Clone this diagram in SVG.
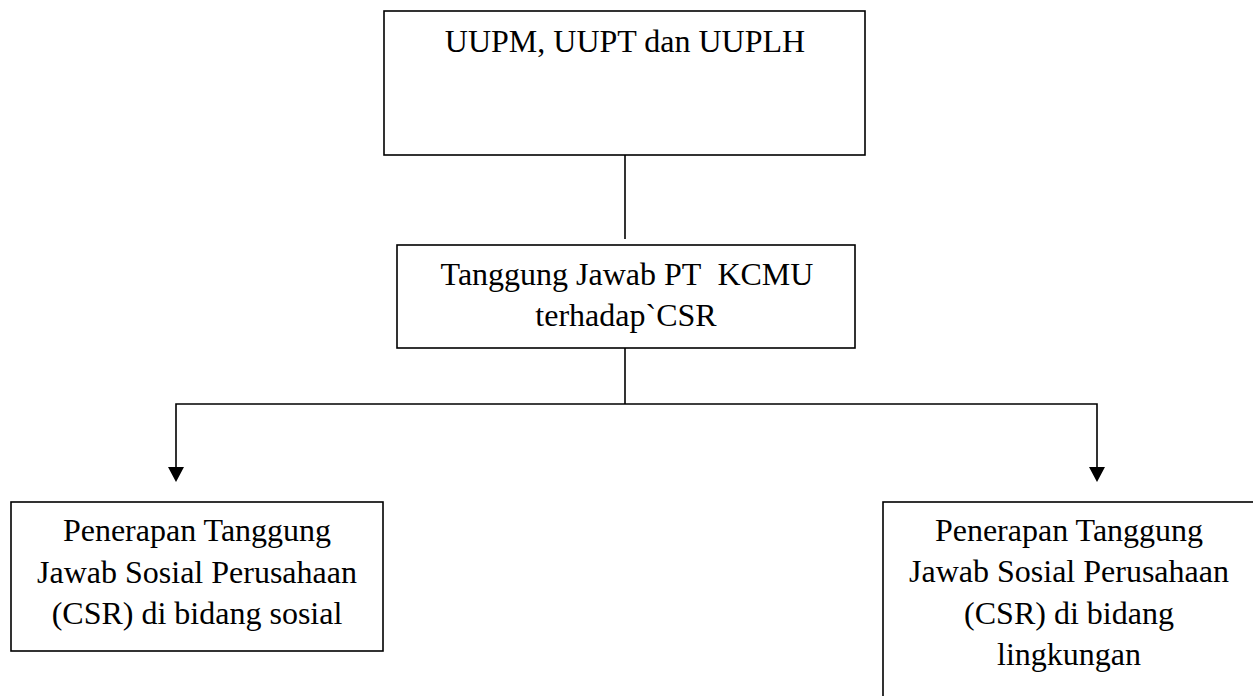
<svg xmlns="http://www.w3.org/2000/svg" width="1253" height="696" viewBox="0 0 1253 696">
<style>
.box{fill:#fff;stroke:#000;stroke-width:1.6}
.t{font-family:"Liberation Serif","Times New Roman",serif;font-size:32px;fill:#000;text-anchor:middle}
.ln{fill:none;stroke:#000;stroke-width:1.6}
.ah{fill:#000}
</style>
<rect width="1253" height="696" fill="#fff"/>
<g id="connectors">
<line class="ln" x1="625" y1="155" x2="625" y2="239"/>
<line class="ln" x1="625" y1="348" x2="625" y2="404"/>
<polyline class="ln" points="176,468 176,404 1097,404 1097,468"/>
<polygon class="ah" points="168,467 184,467 176,482"/>
<polygon class="ah" points="1089,467 1105,467 1097,482"/>
</g>
<g id="node-uu">
<rect class="box" x="384" y="11" width="481" height="144"/>
<text class="t" x="625" y="52">UUPM, UUPT dan UUPLH</text>
</g>
<g id="node-tj">
<rect class="box" x="397" y="245" width="458" height="103"/>
<text class="t" x="627" y="285">Tanggung Jawab PT&#160; KCMU</text>
<text class="t" x="626" y="326">terhadap`CSR</text>
</g>
<g id="node-sosial">
<rect class="box" x="11" y="502" width="372" height="149"/>
<text class="t" x="197" y="541">Penerapan Tanggung</text>
<text class="t" x="197" y="583">Jawab Sosial Perusahaan</text>
<text class="t" x="197" y="624">(CSR) di bidang sosial</text>
</g>
<g id="node-lingkungan">
<rect class="box" x="883" y="502" width="400" height="220"/>
<text class="t" x="1069" y="541">Penerapan Tanggung</text>
<text class="t" x="1069" y="582">Jawab Sosial Perusahaan</text>
<text class="t" x="1069" y="624">(CSR) di bidang</text>
<text class="t" x="1069" y="665">lingkungan</text>
</g>
</svg>
